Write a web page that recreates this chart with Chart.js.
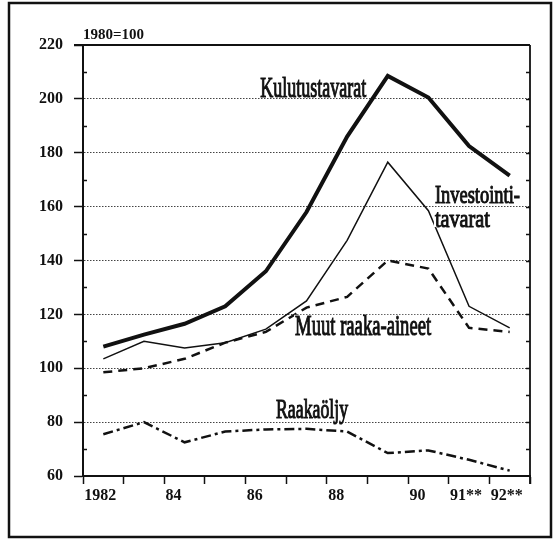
<!DOCTYPE html>
<html>
<head>
<meta charset="utf-8">
<script src="https://cdn.jsdelivr.net/npm/chart.js@4/dist/chart.umd.min.js"></script>
<style>
  html, body { margin: 0; padding: 0; background: #fff; }
  #wrap { width: 557px; height: 540px; }
</style>
</head>
<body>
<div id="wrap"><canvas id="chart" width="557" height="540"></canvas></div>
<script>
// data (1980=100)
const years = ['1982', '', '84', '', '86', '', '88', '', '90', '91**', '92**'];
const kulutus = [108, 112.5, 116.5, 123, 136, 158, 186, 208.5, 200.5, 182.5, 171.5];
const investointi = [103.5, 110, 107.5, 109.5, 114.5, 125, 147.5, 176.5, 158.5, 123, 115];
const muut = [98.5, 100, 103.5, 109.5, 113.5, 122.5, 126.5, 140, 137, 115, 113.5];
const raakaoljy = [75.5, 80, 72.5, 76.5, 77.3, 77.5, 76.5, 68.5, 69.5, 66, 62];

// series names placed next to the lines (x = category index, y = value)
const seriesLabels = [
    { text: 'Kulutustavarat', x: 3.86, y: 200.7, w: 106, size: 29 },
    { text: 'Investointi-', x: 8.16, y: 161.3, w: 85, size: 26 },
    { text: 'tavarat', x: 8.16, y: 152.6, w: 55, size: 26 },
    { text: 'Muut raaka-aineet', x: 4.72, y: 112.3, w: 136, size: 29 },
    { text: 'Raakaöljy', x: 4.25, y: 81.5, w: 72, size: 27 }
];

const INK = '#111';
const serif = '"Liberation Serif", "DejaVu Serif", serif';

const framePlugin = {
    id: 'frame',
    afterDraw(chart) {
        const ctx = chart.ctx;
        const a = chart.chartArea;
        const y = chart.scales.y;
        ctx.save();
        ctx.strokeStyle = INK;

        // outer frame
        ctx.lineWidth = 2.5;
        ctx.strokeRect(9, 3, 542, 534);

        // top line at 220 and right border
        ctx.lineWidth = 1.8;
        ctx.beginPath();
        ctx.moveTo(a.left - 9, y.getPixelForValue(220));
        ctx.lineTo(a.right, y.getPixelForValue(220));
        ctx.moveTo(a.right, a.top);
        ctx.lineTo(a.right, a.bottom + 8);
        ctx.stroke();

        // small ticks
        ctx.lineWidth = 1.3;
        ctx.beginPath();
        for (let v = 70; v < 220; v += 10) {
            const py = Math.round(y.getPixelForValue(v)) + 0.5;
            if (v % 20 !== 0) {
                ctx.moveTo(a.left, py);
                ctx.lineTo(a.left + 4, py);
            }
            ctx.moveTo(a.right - 4, py);
            ctx.lineTo(a.right, py);
        }
        ctx.stroke();

        // index base
        ctx.fillStyle = INK;
        ctx.font = 'bold 15px ' + serif;
        ctx.textBaseline = 'alphabetic';
        ctx.textAlign = 'left';
        ctx.fillText('1980=100', a.left, 39);
        ctx.restore();
    },
    afterDatasetsDraw(chart) {
        const ctx = chart.ctx;
        const xs = chart.scales.x, ys = chart.scales.y;
        ctx.save();
        seriesLabels.forEach(l => {
            const px = xs.getPixelForValue(l.x);
            const py = ys.getPixelForValue(l.y);
            ctx.font = l.size + 'px ' + serif;
            const tw = ctx.measureText(l.text).width;
            const sx = l.w / tw;
            ctx.fillStyle = '#fff';
            ctx.fillRect(px - 1, py - l.size * 0.7, l.w + 2, l.size * 0.72);
            ctx.save();
            ctx.translate(px, py);
            ctx.scale(sx, 1);
            ctx.fillStyle = INK;
            ctx.textAlign = 'left';
            ctx.textBaseline = 'alphabetic';
            ctx.fillText(l.text, 0, 0);
            ctx.strokeStyle = INK;
            ctx.lineWidth = 1.1;
            ctx.strokeText(l.text, 0, 0);
            ctx.restore();
        });
        ctx.restore();
    }
};

new Chart(document.getElementById('chart').getContext('2d'), {
    type: 'line',
    data: {
        labels: years,
        datasets: [
            { label: 'Kulutustavarat', data: kulutus, borderColor: INK, borderWidth: 4 },
            { label: 'Investointitavarat', data: investointi, borderColor: INK, borderWidth: 1.5 },
            { label: 'Muut raaka-aineet', data: muut, borderColor: INK, borderWidth: 2.5, borderDash: [9, 6] },
            { label: 'Raakaöljy', data: raakaoljy, borderColor: INK, borderWidth: 2.5, borderDash: [10, 4, 3, 4] }
        ]
    },
    options: {
        responsive: false,
        animation: false,
        elements: { point: { radius: 0 }, line: { tension: 0, fill: false } },
        layout: { padding: { top: 45, right: 27, left: 0, bottom: 34 } },
        plugins: { legend: { display: false }, tooltip: { enabled: false } },
        scales: {
            x: {
                type: 'category',
                offset: true,
                afterFit: s => { s.height = 30; },
                grid: {
                    offset: true,
                    drawOnChartArea: false,
                    drawTicks: true,
                    tickLength: 8,
                    tickColor: INK,
                    tickWidth: 1.5
                },
                border: { display: true, color: INK, width: 2 },
                ticks: {
                    autoSkip: false,
                    maxRotation: 0,
                    align: 'start',
                    labelOffset: -19,
                    padding: 2,
                    color: INK,
                    font: { family: serif, size: 16, weight: 'bold' }
                }
            },
            y: {
                min: 60,
                max: 220,
                afterFit: s => { s.width = 83; },
                grid: {
                    color: c => (c.tick && (c.tick.value === 60 || c.tick.value === 220)) ? 'rgba(0,0,0,0)' : '#444',
                    lineWidth: 1,
                    drawTicks: true,
                    tickLength: 9,
                    tickColor: INK,
                    tickWidth: 1.5,
                    tickBorderDash: []
                },
                border: { display: true, color: INK, width: 2, dash: [1.5, 1.5] },
                ticks: {
                    stepSize: 20,
                    padding: 11,
                    color: INK,
                    font: { family: serif, size: 16, weight: 'bold' }
                }
            }
        }
    },
    plugins: [framePlugin]
});
</script>
</body>
</html>
